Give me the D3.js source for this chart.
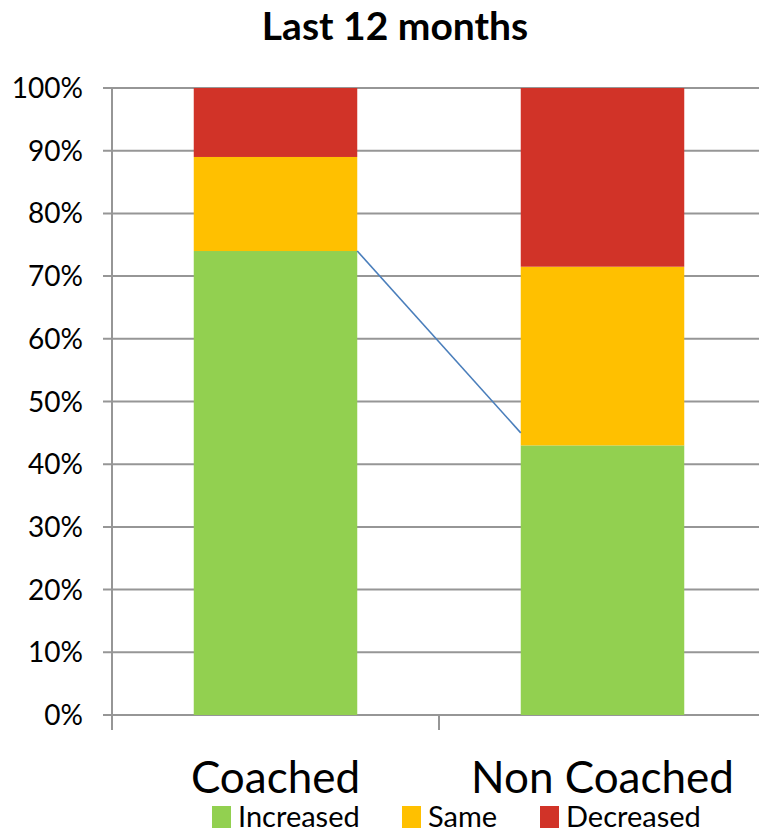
<!DOCTYPE html>
<html>
<head>
<meta charset="utf-8">
<title>Last 12 months</title>
<script src="https://d3js.org/d3.v7.min.js"></script>
<style>
body { margin: 0; background: #fff; }
text { font-family: Lato, "Open Sans", sans-serif; fill: #000; }
</style>
</head>
<body>
<script>
var categories = ["Coached", "Non Coached"];
var seriesNames = ["Increased", "Same", "Decreased"];
var increased = [74, 43];
var same = [15, 28.5];
var decreased = [11, 28.5];
var lineValues = [74, 45];
var colors = ["#92d050", "#ffc000", "#d13328"];
var yTicks = [0, 10, 20, 30, 40, 50, 60, 70, 80, 90, 100];

var width = 759, height = 830;
var margin = { left: 112, top: 88, right: -7, bottom: 115 };

var svg = d3.select("body").append("svg")
  .attr("width", width)
  .attr("height", height);

var x = d3.scaleBand()
  .domain(categories)
  .range([margin.left, width - margin.right])
  .paddingInner(0)
  .paddingOuter(0);

var y = d3.scaleLinear()
  .domain([0, 100])
  .range([height - margin.bottom, margin.top]);

var rows = categories.map(function(c, i) {
  return { cat: c, Increased: increased[i], Same: same[i], Decreased: decreased[i] };
});
var stack = d3.stack().keys(seriesNames)(rows);

// gridlines
svg.append("g").selectAll("line")
  .data(yTicks)
  .enter().append("line")
  .attr("x1", margin.left - 9)
  .attr("x2", width - margin.right)
  .attr("y1", function(d) { return y(d); })
  .attr("y2", function(d) { return y(d); })
  .attr("stroke", "#969696")
  .attr("stroke-width", 2);

// y axis line
svg.append("line")
  .attr("x1", margin.left).attr("x2", margin.left)
  .attr("y1", y(100)).attr("y2", y(0) + 15)
  .attr("stroke", "#969696").attr("stroke-width", 2);

// category ticks
svg.append("g").selectAll("line")
  .data(categories.slice(1))
  .enter().append("line")
  .attr("x1", function(d) { return x(d); })
  .attr("x2", function(d) { return x(d); })
  .attr("y1", y(0)).attr("y2", y(0) + 15)
  .attr("stroke", "#969696").attr("stroke-width", 2);

// y tick labels
svg.append("g").selectAll("text")
  .data(yTicks)
  .enter().append("text")
  .attr("x", 83)
  .attr("y", function(d) { return y(d); })
  .attr("dy", "0.36em")
  .attr("text-anchor", "end")
  .style("font-size", "28px")
  .text(function(d) { return d + "%"; });

// bars
var barW = x.bandwidth() * 0.5;
svg.append("g").selectAll("g")
  .data(stack)
  .enter().append("g")
  .attr("fill", function(d, i) { return colors[i]; })
  .selectAll("rect")
  .data(function(d) { return d; })
  .enter().append("rect")
  .attr("x", function(d) { return x(d.data.cat) + (x.bandwidth() - barW) / 2; })
  .attr("width", barW)
  .attr("y", function(d) { return y(d[1]); })
  .attr("height", function(d) { return y(d[0]) - y(d[1]); });

// connecting line
svg.append("line")
  .attr("x1", x(categories[0]) + (x.bandwidth() + barW) / 2)
  .attr("y1", y(lineValues[0]))
  .attr("x2", x(categories[1]) + (x.bandwidth() - barW) / 2)
  .attr("y2", y(lineValues[1]))
  .attr("stroke", "#4a7ebb")
  .attr("stroke-width", 1.6);

// category labels
svg.append("g").selectAll("text")
  .data(categories)
  .enter().append("text")
  .attr("x", function(d) { return x(d) + x.bandwidth() / 2; })
  .attr("y", 793)
  .attr("text-anchor", "middle")
  .style("font-size", "44px")
  .text(function(d) { return d; });

// title
svg.append("text")
  .attr("x", 395).attr("y", 40)
  .attr("text-anchor", "middle")
  .style("font-size", "39px")
  .style("font-weight", "bold")
  .text("Last 12 months");

// legend
var legendX = [212, 402, 540];
var lg = svg.append("g").selectAll("g")
  .data(seriesNames)
  .enter().append("g")
  .attr("transform", function(d, i) { return "translate(" + legendX[i] + ",806)"; });
lg.append("rect")
  .attr("width", 19).attr("height", 22)
  .attr("fill", function(d, i) { return colors[i]; });
lg.append("text")
  .attr("x", 26).attr("y", 21)
  .style("font-size", "29px")
  .text(function(d) { return d; });
</script>
</body>
</html>
